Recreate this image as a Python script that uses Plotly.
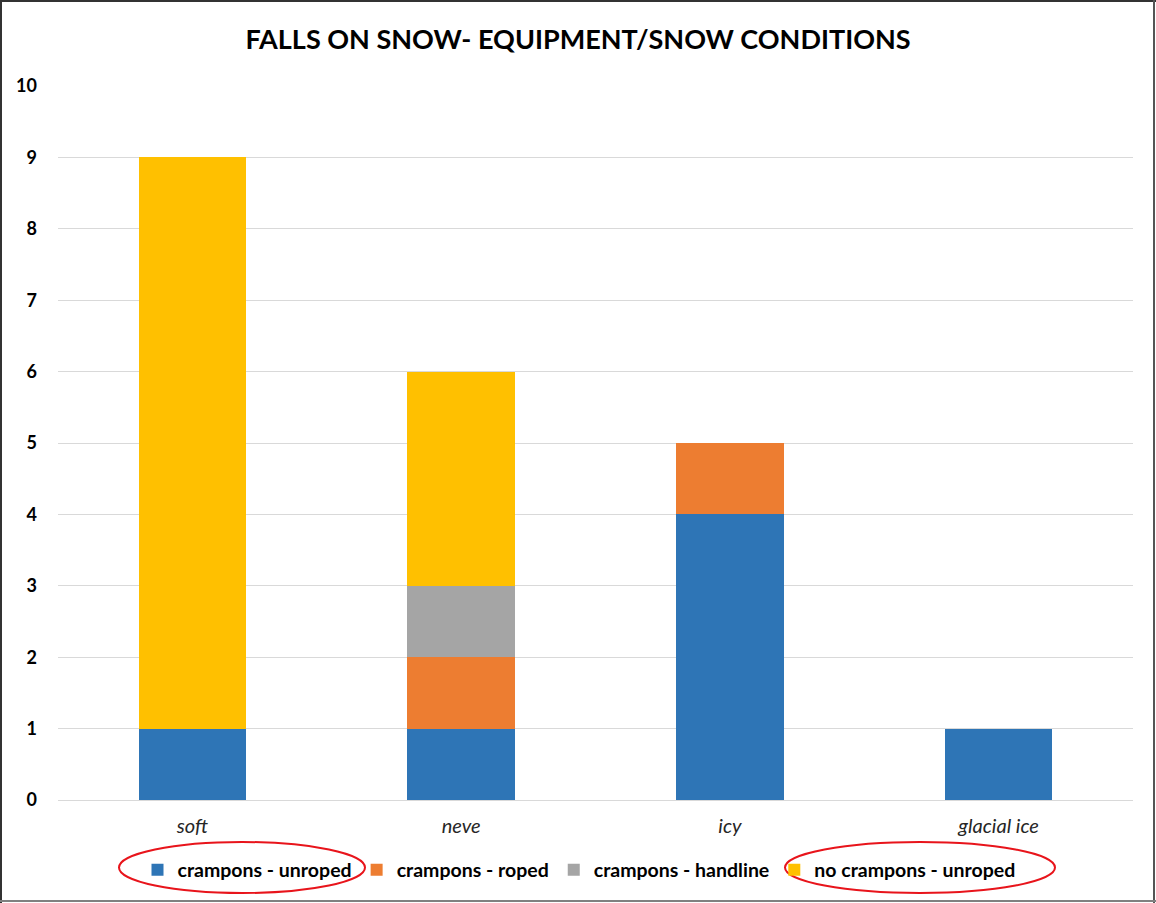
import plotly.graph_objects as go

categories = ["soft", "neve", "icy", "glacial ice"]
series_names = ["crampons - unroped", "crampons - roped", "crampons - handline", "no crampons - unroped"]
unroped = [1, 1, 4, 1]
roped = [0, 1, 1, 0]
handline = [0, 1, 0, 0]
no_crampons = [8, 3, 0, 0]
colors = ["#2E75B6", "#ED7D31", "#A5A5A5", "#FFC000"]

W, H = 1156, 903
L, R, T, B = 58, 23, 86, 103
pw, ph = W - L - R, H - T - B

def px(x):
    return (x - L) / pw

def py(y):
    return (H - B - y) / ph

fig = go.Figure()
for name, vals, c in zip(series_names, [unroped, roped, handline, no_crampons], colors):
    fig.add_trace(go.Bar(x=categories, y=vals, name=name, marker=dict(color=c, line=dict(width=0))))

shapes = [
    dict(type="line", xref="paper", yref="paper", x0=px(0), x1=px(1156), y0=py(1), y1=py(1),
         line=dict(color="#333333", width=2)),
    dict(type="line", xref="paper", yref="paper", x0=px(1), x1=px(1), y0=py(0), y1=py(903),
         line=dict(color="#333333", width=2)),
    dict(type="line", xref="paper", yref="paper", x0=px(1154), x1=px(1154), y0=py(0), y1=py(903),
         line=dict(color="#555555", width=2)),
    dict(type="line", xref="paper", yref="paper", x0=px(0), x1=px(1156), y0=py(901), y1=py(901),
         line=dict(color="#808080", width=2)),
    dict(type="circle", xref="paper", yref="paper", x0=px(119), x1=px(365), y0=py(893), y1=py(842),
         line=dict(color="#E8141B", width=2)),
    dict(type="circle", xref="paper", yref="paper", x0=px(785), x1=px(1055), y0=py(893), y1=py(842),
         line=dict(color="#E8141B", width=2)),
]

fig.update_layout(
    width=W, height=H,
    margin=dict(l=L, r=R, t=T, b=B),
    barmode="stack", bargap=0.6,
    plot_bgcolor="white", paper_bgcolor="white",
    font=dict(family="Lato, Open Sans, sans-serif", color="#000000"),
    title=dict(text="<b>FALLS ON SNOW- EQUIPMENT/SNOW CONDITIONS</b>", x=0.5, xanchor="center",
               y=1 - 40 / H, yanchor="middle", font=dict(size=27, color="#000000")),
    yaxis=dict(range=[0, 10], dtick=1, showgrid=True, gridcolor="#D9D9D9", gridwidth=1,
               zeroline=True, zerolinecolor="#D9D9D9", zerolinewidth=1,
               tickfont=dict(size=18, color="#000000", weight="bold"),
               ticks="", ticklabelstandoff=20),
    xaxis=dict(tickfont=dict(size=20, color="#262626", style="italic"), ticks="", showline=False,
               ticklabelstandoff=12),
    legend=dict(orientation="h", x=px(579), xanchor="center", y=py(870), yanchor="middle",
                bgcolor="rgba(0,0,0,0)",
                font=dict(size=19.5, color="#000000", weight="bold"), itemwidth=30,
                traceorder="normal"),
    shapes=shapes,
)
fig.write_html("out.html", config={"displayModeBar": False},
               post_script="document.body.style.margin='0';document.body.style.overflow='hidden';")
